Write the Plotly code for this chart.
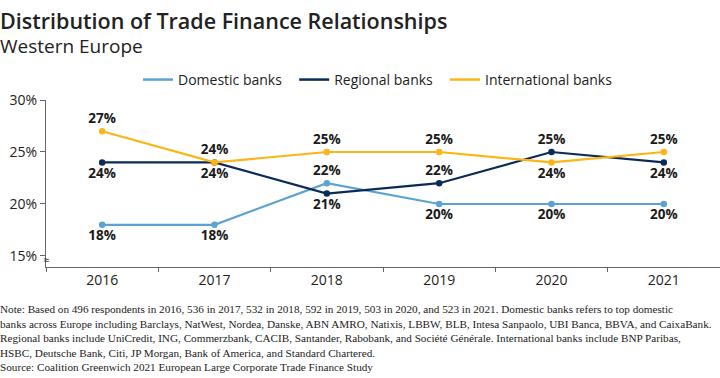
import plotly.graph_objects as go

years = ["2016", "2017", "2018", "2019", "2020", "2021"]
domestic = [18, 18, 22, 20, 20, 20]
regional = [24, 24, 21, 22, 25, 24]
international = [27, 24, 25, 25, 24, 25]
dom_pos = ["bottom center", "bottom center", "top center", "bottom center", "bottom center", "bottom center"]
reg_pos = ["bottom center", "bottom center", "bottom center", "top center", "top center", "bottom center"]
int_pos = ["top center", "top center", "top center", "top center", "bottom center", "top center"]

note = ("Note: Based on 496 respondents in 2016, 536 in 2017, 532 in 2018, 592 in 2019, 503 in 2020, and 523 in 2021. Domestic banks refers to top domestic<br>"
        "banks across Europe including Barclays, NatWest, Nordea, Danske, ABN AMRO, Natixis, LBBW, BLB, Intesa Sanpaolo, UBI Banca, BBVA, and CaixaBank.<br>"
        "Regional banks include UniCredit, ING, Commerzbank, CACIB, Santander, Rabobank, and Société Générale. International banks include BNP Paribas,<br>"
        "HSBC, Deutsche Bank, Citi, JP Morgan, Bank of America, and Standard Chartered.<br>"
        "Source: Coalition Greenwich 2021 European Large Corporate Trade Finance Study")

series = [
    ("Domestic banks", domestic, "#5ba3d0", dom_pos),
    ("Regional banks", regional, "#0a2b57", reg_pos),
    ("International banks", international, "#fdb515", int_pos),
]
legend_pad = ["\u00a0\u00a0", "\u00a0\u00a0", ""]

MAIN = "Open Sans"
fig = go.Figure()
for name, vals, col, pos in series:
    fig.add_trace(go.Scatter(
        x=years, y=vals, name=name, mode="lines+markers+text", showlegend=False,
        line=dict(color=col, width=2.2), marker=dict(color=col, size=6.5),
        text=[f"{v}%" for v in vals], textposition=pos,
        textfont=dict(family=MAIN, size=13.5, color="#1a1a1a", weight="bold"),
        cliponaxis=False,
    ))
for (name, vals, col, pos), pad in zip(series, legend_pad):
    fig.add_trace(go.Scatter(
        x=[None], y=[None], name=name + pad, mode="lines",
        line=dict(color=col, width=2.5),
    ))

H = 166.7  # plot height in px
fig.update_layout(
    width=720, height=378,
    margin=dict(l=46, r=0, t=100, b=111.3, autoexpand=False),
    plot_bgcolor="white", paper_bgcolor="white",
    font=dict(family=MAIN, color="#222222"),
    showlegend=True,
    legend=dict(orientation="h", x=(143 - 46 - 5) / 674, xanchor="left", y=1 + 20 / H, yanchor="middle",
                font=dict(size=14, color="#222222", family=MAIN),
                traceorder="normal", bgcolor="rgba(0,0,0,0)"),
    xaxis=dict(type="category", range=[-0.5, 5.5], showline=True, linecolor="#666666",
               linewidth=1, showgrid=False, ticks="outside", tickson="boundaries", ticklen=4,
               tickcolor="#666666", tickfont=dict(size=14, color="#222222"), automargin=False),
    yaxis=dict(range=[13.94, 30], tickvals=[15, 20, 25, 30], ticktext=["15%", "20%", "25%", "30%"],
               showline=True, linecolor="#666666", linewidth=1, showgrid=False,
               ticks="outside", ticklen=5, tickcolor="#666666", tickfont=dict(size=14, color="#222222"),
               zeroline=False, automargin=False),
)

fig.add_annotation(xref="paper", yref="paper", x=0, y=1 + (100 - 21) / H, xanchor="left", yanchor="middle",
                   text="Distribution of Trade Finance Relationships", showarrow=False,
                   font=dict(size=21.5, color="#222222", family=MAIN, weight=600), xshift=-48)
fig.add_annotation(xref="paper", yref="paper", x=0, y=1 + (100 - 46) / H, xanchor="left", yanchor="middle",
                   text="Western Europe", showarrow=False,
                   font=dict(size=19, color="#222222", family=MAIN), xshift=-48)
fig.add_annotation(xref="paper", yref="paper", x=0, y=-(301 - 266.7) / H, xanchor="left", yanchor="top",
                   text=note, showarrow=False, align="left",
                   font=dict(size=11.2, color="#222222", family="Liberation Sans Narrow"), xshift=-48)
fig.add_annotation(xref="paper", yref="paper", x=0, y=7 / H, xanchor="center", yanchor="middle",
                   text="≈", showarrow=False, font=dict(size=11, color="#222222"))

fig.write_html("out.html", post_script="document.body.style.margin='0px';",
               config={"displayModeBar": False})
